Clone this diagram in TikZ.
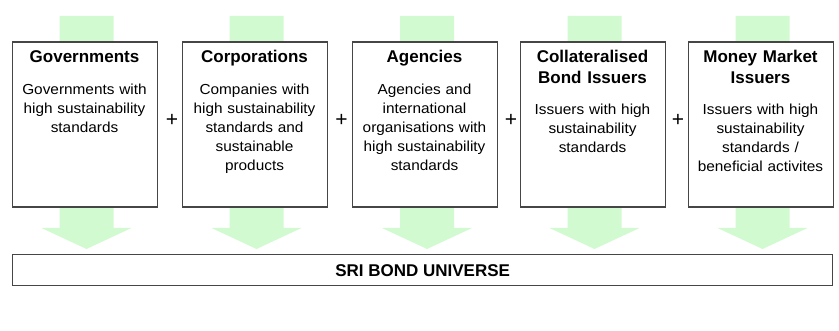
\documentclass[tikz,border=0pt]{standalone}
\usepackage{fontspec}
\setmainfont{Liberation Sans}
\newfontfamily\bodyfont[FakeStretch=1.06]{Liberation Sans}
\definecolor{arrowgreen}{RGB}{210,250,208}
\definecolor{boxgray}{RGB}{70,70,70}
\begin{document}
\begin{tikzpicture}[x=1pt,y=-1pt,
  srcbox/.style={draw=boxgray, line width=1.3pt, fill=white, minimum width=145pt, minimum height=165pt, inner sep=0pt, anchor=north west},
  titletext/.style={font=\fontsize{17}{21}\selectfont\bfseries, text width=140pt, align=center, inner sep=0pt, anchor=base},
  bodytext/.style={font=\bodyfont\fontsize{14.5}{19}\selectfont, text width=142pt, align=center, inner sep=0pt, anchor=base},
  plussign/.style={font=\fontsize{21}{21}\selectfont, inner sep=0pt},
  flowarrow/.style={fill=arrowgreen, draw=none},
  unibox/.style={draw=boxgray, line width=1.3pt, fill=white, minimum width=820pt, minimum height=31pt, inner sep=0pt, anchor=north west, font=\fontsize{17}{20}\selectfont\bfseries}
  ]
\useasboundingbox (0,0) rectangle (839,331);
% flow arrows behind the boxes
\foreach \c in {86.5,256.5,427,594.5,762.5}{
  \fill[flowarrow] (\c-27,16) -- (\c+27,16) -- (\c+27,228) -- (\c+45,228) -- (\c,249) -- (\c-45,228) -- (\c-27,228) -- cycle;
}
% source boxes
\node[srcbox] (gov) at (12,41.5) {};
\node[srcbox] (corp) at (182,41.5) {};
\node[srcbox] (agen) at (352,41.5) {};
\node[srcbox] (coll) at (520,41.5) {};
\node[srcbox] (mm) at (688,41.5) {};
% titles
\node[titletext] (govtitle) at (84.5,63) {Governments};
\node[titletext] (corptitle) at (254.5,63) {Corporations};
\node[titletext] (agentitle) at (424.5,63) {Agencies};
\node[titletext] (colltitle) at (592.5,63) {Collateralised\\Bond Issuers};
\node[titletext] (mmtitle) at (760.5,63) {Money Market\\Issuers};
% bodies
\node[bodytext] (govbody) at (84.5,95) {Governments with\\high sustainability\\standards};
\node[bodytext] (corpbody) at (254.5,95) {Companies with\\high sustainability\\standards and\\sustainable\\products};
\node[bodytext] (agenbody) at (424.5,95) {Agencies and\\international\\organisations with\\high sustainability\\standards};
\node[bodytext] (collbody) at (592.5,115) {Issuers with high\\sustainability\\standards};
\node[bodytext] (mmbody) at (760.5,115) {Issuers with high\\sustainability\\standards /\\beneficial activites};
% plus signs
\node[plussign] (p1) at (172,120) {+};
\node[plussign] (p2) at (341.5,120) {+};
\node[plussign] (p3) at (511,120) {+};
\node[plussign] (p4) at (678,120) {+};
% universe
\node[unibox] (universe) at (12,254) {SRI BOND UNIVERSE};
\end{tikzpicture}
\end{document}
